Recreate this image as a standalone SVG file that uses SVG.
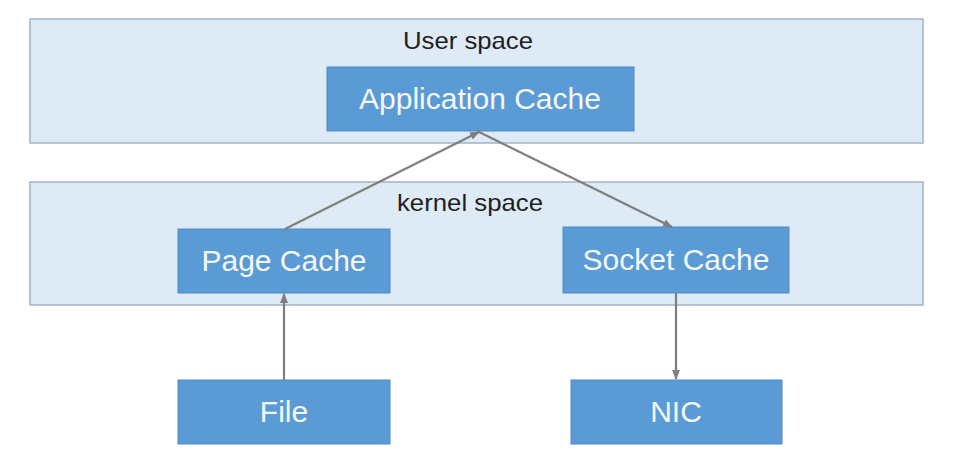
<svg xmlns="http://www.w3.org/2000/svg" width="973" height="475" viewBox="0 0 973 475">
<style>
.band{fill:#deeaf6;stroke:#a3b3c6;stroke-width:1.5}
.box{fill:#5b9bd5;stroke:#4d8bc6;stroke-width:1}
.lbl{font-family:"Liberation Sans",Arial,sans-serif;font-size:24px;fill:#1e1e1e;text-anchor:middle}
.txt{font-family:"Liberation Sans",Arial,sans-serif;font-size:30px;fill:#f4f8fd;text-anchor:middle}
.conn{stroke:#7f7f7f;stroke-width:2.2;fill:none}
</style>
<defs>
<marker id="ah" markerWidth="10" markerHeight="10" refX="9" refY="5" orient="auto" markerUnits="userSpaceOnUse">
<path d="M0,1 L10,5 L0,9 Z" fill="#7f7f7f"/>
</marker>
</defs>
<rect width="973" height="475" fill="#ffffff"/>
<g id="user-space">
<rect class="band" x="30" y="19" width="893" height="124"/>
<text class="lbl" x="468" y="49" textLength="130" lengthAdjust="spacingAndGlyphs">User space</text>
</g>
<g id="kernel-space">
<rect class="band" x="30" y="182" width="893" height="123"/>
<text class="lbl" x="470" y="211" textLength="146" lengthAdjust="spacingAndGlyphs">kernel space</text>
</g>
<g id="application-cache">
<rect class="box" x="327" y="67" width="307" height="64"/>
<text class="txt" x="480" y="109">Application Cache</text>
</g>
<g id="page-cache">
<rect class="box" x="178" y="229" width="212" height="64"/>
<text class="txt" x="284" y="271">Page Cache</text>
</g>
<g id="socket-cache">
<rect class="box" x="563" y="227" width="226" height="66"/>
<text class="txt" x="676" y="270">Socket Cache</text>
</g>
<g id="file">
<rect class="box" x="178" y="380" width="212" height="64"/>
<text class="txt" x="284" y="422">File</text>
</g>
<g id="nic">
<rect class="box" x="571" y="380" width="211" height="64"/>
<text class="txt" x="676" y="422">NIC</text>
</g>
<g id="connectors">
<line class="conn" x1="285" y1="229" x2="479" y2="132" marker-end="url(#ah)"/>
<line class="conn" x1="477" y1="131" x2="672" y2="227" marker-end="url(#ah)"/>
<line class="conn" x1="284" y1="380" x2="284" y2="294" marker-end="url(#ah)"/>
<line class="conn" x1="676" y1="293" x2="676" y2="379" marker-end="url(#ah)"/>
</g>
</svg>
